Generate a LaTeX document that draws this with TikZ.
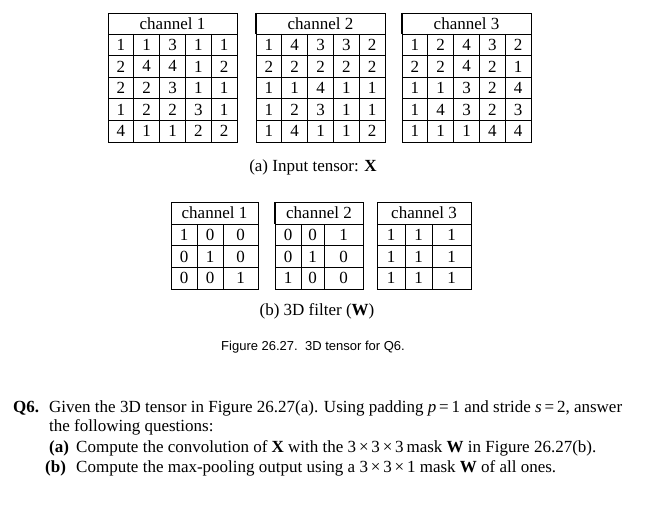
\documentclass[tikz,border=0pt]{standalone}
\usepackage{fontspec}
\setmainfont{Liberation Serif}
\setsansfont{Liberation Sans}
\usetikzlibrary{positioning}

\tikzset{
  grid/.style={line width=0.8pt},
  cell/.style={inner sep=0pt,font=\fontsize{17}{19}\selectfont},
  head/.style={inner sep=0pt,font=\fontsize{17}{19}\selectfont},
  capt/.style={inner sep=0pt,font=\fontsize{17}{19}\selectfont},
  figcapt/.style={inner sep=0pt,font=\sffamily\fontsize{13}{15}\selectfont},
  qline/.style={anchor=base west,inner sep=0pt,font=\fontsize{17}{20}\selectfont}
}

% input channel: name, left x, label, rows
\newcommand{\inchannel}[4]{%
  \draw[grid] (#2,13) rectangle (#2+129,142);
  \draw[grid] (#2,34) -- (#2+129,34);
  \foreach \k in {1,...,4} {
    \draw[grid] (#2+\k*25.8,34) -- (#2+\k*25.8,142);
    \draw[grid] (#2,34+\k*21.6) -- (#2+129,34+\k*21.6);
  }
  \node[head] (#1-h) at (#2+64.5,23.5) {#3};
  \foreach \row [count=\r] in {#4} {
    \foreach \v [count=\c] in \row {
      \node[cell] (#1-\r-\c) at (#2+\c*25.8-12.9,34+\r*21.6-10.8) {\v};
    }
  }
}

% filter channel: name, x0, x1, x2, x3, label, rows
\newcommand{\filtchannel}[7]{%
  \draw[grid] (#2,202) rectangle (#5,289);
  \draw[grid] (#2,224) -- (#5,224);
  \draw[grid] (#3,224) -- (#3,289);
  \draw[grid] (#4,224) -- (#4,289);
  \draw[grid] (#2,245.7) -- (#5,245.7);
  \draw[grid] (#2,267.3) -- (#5,267.3);
  \node[head] (#1-h) at ({(#2+#5)/2},213) {#6};
  \foreach \ca/\cb/\cc [count=\r] in {#7} {
    \node[cell] (#1-\r-1) at ({(#2+#3)/2},224+\r*21.67-10.83) {\ca};
    \node[cell] (#1-\r-2) at ({(#3+#4)/2},224+\r*21.67-10.83) {\cb};
    \node[cell] (#1-\r-3) at ({(#4+#5)/2},224+\r*21.67-10.83) {\cc};
  }
}

\begin{document}
\begin{tikzpicture}[x=1pt,y=-1pt]
\useasboundingbox (0,0) rectangle (655,511);

% (a) input tensor
\inchannel{xa}{108}{channel 1}{{1,1,3,1,1},{2,4,4,1,2},{2,2,3,1,1},{1,2,2,3,1},{4,1,1,2,2}}
\inchannel{xb}{256}{channel 2}{{1,4,3,3,2},{2,2,2,2,2},{1,1,4,1,1},{1,2,3,1,1},{1,4,1,1,2}}
\inchannel{xc}{402}{channel 3}{{1,2,4,3,2},{2,2,4,2,1},{1,1,3,2,4},{1,4,3,2,3},{1,1,1,4,4}}
\draw[line width=1.6pt] (256,13) -- (256,34);
\draw[line width=1.6pt] (402,13) -- (402,34);
\node[capt] (capa) at (313,167) {(a) Input tensor: \textbf{X}};

% (b) filter
\filtchannel{wa}{171}{197}{223}{258}{channel 1}{1/0/0,0/1/0,0/0/1}
\filtchannel{wb}{275}{301}{324}{363}{channel 2}{0/0/1,0/1/0,1/0/0}
\filtchannel{wc}{377}{405}{432}{471}{channel 3}{1/1/1,1/1/1,1/1/1}
\draw[line width=1.6pt] (275,202) -- (275,224);
\node[capt] (capb) at (317,311) {(b) 3D filter (\textbf{W})};

\node[figcapt] (fig) at (313,347) {Figure 26.27.\ \ 3D tensor for Q6.};

% question
\node[qline,font=\bfseries\fontsize{17}{20}\selectfont] (q6) at (13,412) {Q6.};
\node[qline] (l1) at (49,412) {Given the 3D tensor in Figure 26.27(a). Using padding \textit{p}\,=\,1 and stride \textit{s}\,=\,2, answer};
\node[qline] (l2) at (49,431.5) {the following questions:};
\node[qline,font=\bfseries\fontsize{17}{20}\selectfont] (qa) at (49,452) {(a)};
\node[qline] (la) at (76,452) {Compute the convolution of \textbf{X} with the 3\,×\,3\,×\,3\,mask \textbf{W} in Figure 26.27(b).};
\node[qline,font=\bfseries\fontsize{17}{20}\selectfont] (qb) at (45,472) {(b)};
\node[qline] (lb) at (76,472) {Compute the max-pooling output using a 3\,×\,3\,×\,1 mask \textbf{W} of all ones.};
\end{tikzpicture}
\end{document}
